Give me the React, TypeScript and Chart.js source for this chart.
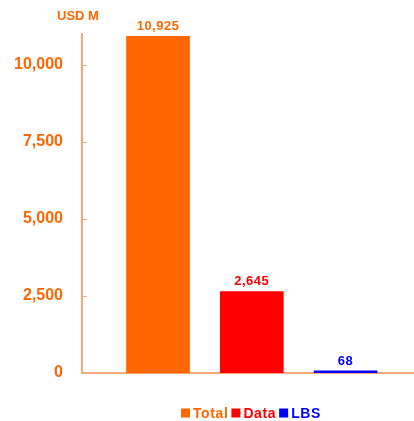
import React, { useEffect, useRef } from "react";
import { Chart, registerables } from "chart.js";

Chart.register(...registerables);

const categories = ["Total", "Data", "LBS"];
const values = [10925, 2645, 68];
const colors = ["#FF6600", "#FF0000", "#0000FF"];
const yTicks = [0, 2500, 5000, 7500, 10000];
const unitLabel = "USD M";
const ORANGE = "#FF6600";
const AXIS = "#F8A878";

const fmt = (v: number) => v.toLocaleString("en-US");

const overlay = {
  id: "overlay",
  afterDatasetsDraw(chart: any) {
    const ctx = chart.ctx;
    const area = chart.chartArea;
    const ys = chart.scales.y;
    ctx.save();
    // inward tick marks
    ctx.strokeStyle = AXIS;
    ctx.lineWidth = 1;
    yTicks.forEach((t) => {
      const py = Math.round(ys.getPixelForValue(t)) + 0.5;
      ctx.beginPath();
      ctx.moveTo(area.left, py);
      ctx.lineTo(area.left + 5, py);
      ctx.stroke();
    });
    // unit label
    ctx.fillStyle = ORANGE;
    ctx.font = "bold 13px 'Liberation Sans', Arial, sans-serif";
    ctx.textAlign = "center";
    ctx.textBaseline = "alphabetic";
    ctx.fillText(unitLabel, 78, 20);
    // value labels
    ctx.font = "bold 13px 'Liberation Sans', Arial, sans-serif";
    (ctx as any).letterSpacing = "0.5px";
    chart.data.datasets.forEach((ds: any, i: number) => {
      const meta = chart.getDatasetMeta(i);
      const bar = meta.data[0];
      ctx.fillStyle = colors[i];
      ctx.fillText(fmt(values[i]), bar.x, bar.y - 6);
    });
    // legend
    ctx.font = "bold 14px 'Liberation Sans', Arial, sans-serif";
    (ctx as any).letterSpacing = "0.6px";
    ctx.textAlign = "left";
    ctx.textBaseline = "middle";
    const legendY = 413;
    let x = 181;
    categories.forEach((c, i) => {
      ctx.fillStyle = colors[i];
      ctx.fillRect(x, legendY - 4.5, 9, 9);
      x += 12;
      ctx.fillText(c, x, legendY + 1);
      x += ctx.measureText(c).width + 3;
    });
    ctx.restore();
  },
};

export default function App() {
  const ref = useRef<HTMLCanvasElement | null>(null);
  useEffect(() => {
    document.body.style.margin = "0";
    const chart = new Chart(ref.current as HTMLCanvasElement, {
      type: "bar",
      data: {
        datasets: categories.map((c, i) => ({
          label: c,
          data: [{ x: i + 1, y: values[i] }],
          backgroundColor: colors[i],
          borderWidth: 0,
          barThickness: 63,
          grouped: false,
        })),
      },
      options: {
        animation: false,
        responsive: false,
        layout: { padding: { top: 34, bottom: 48, left: 0, right: 0 } },
        plugins: { legend: { display: false }, tooltip: { enabled: false } },
        scales: {
          x: {
            type: "linear",
            offset: false,
            min: 0.189,
            max: 3.73,
            ticks: { display: false },
            grid: { display: false, drawTicks: false, offset: false },
            border: { color: AXIS, width: 2 },
          },
          y: {
            min: 0,
            max: 11000,
            afterBuildTicks: (s: any) => {
              s.ticks = yTicks.map((v) => ({ value: v }));
            },
            afterFit: (s: any) => {
              s.width = 82;
            },
            ticks: {
              color: ORANGE,
              padding: 19,
              font: { family: "'Liberation Sans', Arial, sans-serif", size: 16, weight: "bold" },
              callback: (v: any) => fmt(Number(v)),
            },
            grid: { display: false, drawTicks: false },
            border: { color: AXIS, width: 2 },
          },
        },
      },
      plugins: [overlay],
    } as any);
    return () => chart.destroy();
  }, []);
  return <canvas ref={ref} width={414} height={421} style={{ display: "block" }} />;
}
